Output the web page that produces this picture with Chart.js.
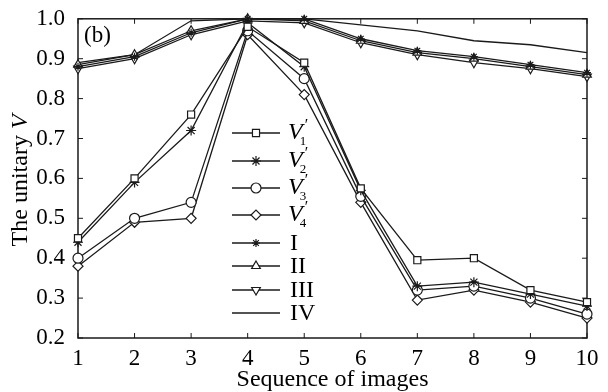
<!DOCTYPE html>
<html>
<head>
<meta charset="utf-8">
<script src="https://cdn.jsdelivr.net/npm/chart.js@4.4.1/dist/chart.umd.min.js"></script>
<style>
html, body { margin: 0; padding: 0; background: #fff; }
#caixa { width: 608px; height: 392px; }
</style>
</head>
<body>
<div id="caixa"><canvas id="graficoLinhas"></canvas></div>
<script>
const imagens = ['1', '2', '3', '4', '5', '6', '7', '8', '9', '10'];
const ticksY = [0.2, 0.3, 0.4, 0.5, 0.6, 0.7, 0.8, 0.9, 1.0];

const serieV1 = [0.45, 0.60, 0.76, 0.98, 0.89, 0.575, 0.395, 0.40, 0.32, 0.29];
const serieV2 = [0.44, 0.59, 0.72, 0.99, 0.88, 0.57, 0.33, 0.34, 0.31, 0.28];
const serieV3 = [0.40, 0.50, 0.54, 0.97, 0.85, 0.555, 0.32, 0.33, 0.30, 0.26];
const serieV4 = [0.38, 0.49, 0.50, 0.96, 0.81, 0.54, 0.295, 0.32, 0.29, 0.25];
const serieI = [0.88, 0.905, 0.965, 1.0, 1.0, 0.95, 0.92, 0.905, 0.885, 0.865];
const serieII = [0.885, 0.91, 0.97, 1.0, 0.995, 0.945, 0.915, 0.90, 0.88, 0.86];
const serieIII = [0.875, 0.90, 0.96, 0.995, 0.99, 0.94, 0.91, 0.89, 0.875, 0.855];
const serieIV = [0.89, 0.91, 0.995, 1.0, 1.0, 0.985, 0.97, 0.945, 0.935, 0.915];

const fonte = "'Liberation Serif', 'DejaVu Serif', serif";
const cor = '#1a1a1a';

function serie(label, data, estilo, raio, rotacao) {
    return {
        label: label,
        data: data,
        borderColor: cor,
        borderWidth: 1.3,
        pointStyle: estilo,
        pointRadius: raio,
        pointRotation: rotacao || 0,
        pointBorderColor: cor,
        pointBorderWidth: 1.2,
        pointBackgroundColor: '#fff',
        tension: 0,
        clip: false
    };
}

// moldura, ticks para dentro, legenda e titulos
const extras = {
    id: 'extras',
    beforeDatasetsDraw(chart) {
        const ctx = chart.ctx;
        const a = chart.chartArea;
        const sx = chart.scales.x, sy = chart.scales.y;
        ctx.save();
        ctx.strokeStyle = cor;
        ctx.lineWidth = 1.5;
        ctx.strokeRect(a.left, a.top, a.right - a.left, a.bottom - a.top);
        ctx.lineWidth = 1;
        ctx.beginPath();
        imagens.forEach((l, i) => {
            const px = sx.getPixelForValue(i);
            ctx.moveTo(px, a.bottom); ctx.lineTo(px, a.bottom - 5);
            ctx.moveTo(px, a.top); ctx.lineTo(px, a.top + 5);
        });
        ticksY.forEach(v => {
            const py = sy.getPixelForValue(v);
            ctx.moveTo(a.left, py); ctx.lineTo(a.left + 5, py);
            ctx.moveTo(a.right, py); ctx.lineTo(a.right - 5, py);
        });
        ctx.stroke();
        ctx.restore();
    },
    afterDraw(chart) {
        const ctx = chart.ctx;
        const a = chart.chartArea;
        ctx.save();
        ctx.fillStyle = '#000';
        ctx.textBaseline = 'middle';

        ctx.font = '23px ' + fonte;
        ctx.textAlign = 'left';
        ctx.fillText('(b)', a.left + 6, a.top + 17);

        // titulo eixo x
        ctx.textAlign = 'center';
        ctx.font = '24px ' + fonte;
        ctx.fillText('Sequence of images', (a.left + a.right) / 2, 380);

        // titulo eixo y
        ctx.translate(21, (a.top + a.bottom) / 2 + 2);
        ctx.rotate(-Math.PI / 2);
        const t1 = 'The unitary ';
        ctx.font = '24px ' + fonte;
        const w1 = ctx.measureText(t1).width;
        ctx.font = 'italic 24px ' + fonte;
        const w2 = ctx.measureText('V').width;
        ctx.textAlign = 'left';
        ctx.font = '24px ' + fonte;
        ctx.fillText(t1, -(w1 + w2) / 2, 0);
        ctx.font = 'italic 24px ' + fonte;
        ctx.fillText('V', -(w1 + w2) / 2 + w1, 0);
        ctx.restore();

        // legenda
        const linhas = [133, 161, 188, 215, 243, 266, 290, 313];
        ctx.save();
        chart.data.datasets.forEach((ds, i) => {
            const y = linhas[i];
            ctx.strokeStyle = cor;
            ctx.lineWidth = 1.3;
            ctx.beginPath();
            ctx.moveTo(232, y); ctx.lineTo(280, y);
            ctx.stroke();
            if (ds.pointRadius > 0) {
                ctx.fillStyle = '#fff';
                ctx.lineWidth = 1.2;
                Chart.helpers.drawPoint(ctx, {
                    pointStyle: ds.pointStyle,
                    radius: ds.pointRadius,
                    rotation: ds.pointRotation,
                    borderWidth: 1.2
                }, 256, y);
            }
            ctx.fillStyle = '#000';
            ctx.textBaseline = 'middle';
            ctx.textAlign = 'left';
            if (ds.label.startsWith('V')) {
                ctx.font = 'italic 24px ' + fonte;
                ctx.fillText('V', 288, y);
                const wv = ctx.measureText('V').width;
                ctx.font = '16px ' + fonte;
                ctx.fillText('\u2032', 288 + wv + 2, y - 7);
                ctx.font = '13px ' + fonte;
                ctx.fillText(ds.label.slice(2), 288 + wv - 3, y + 9);
            } else {
                ctx.font = '24px ' + fonte;
                ctx.fillText(ds.label, 290, y + 1);
            }
        });
        ctx.restore();
    }
};

const ctx = document.getElementById('graficoLinhas');
new Chart(ctx, {
    type: 'line',
    data: {
        labels: imagens,
        datasets: [
            serie('V\u20321', serieV1, 'rect', 5),
            serie('V\u20322', serieV2, 'star', 5),
            serie('V\u20323', serieV3, 'circle', 5),
            serie('V\u20324', serieV4, 'rectRot', 5),
            serie('I', serieI, 'star', 4),
            serie('II', serieII, 'triangle', 5),
            serie('III', serieIII, 'triangle', 5, 180),
            serie('IV', serieIV, 'circle', 0)
        ]
    },
    options: {
        responsive: true,
        maintainAspectRatio: false,
        animation: false,
        layout: { padding: { left: 0, top: 16, right: 21, bottom: 0 } },
        scales: {
            x: {
                offset: false,
                grid: { display: false },
                border: { display: false },
                ticks: {
                    color: '#000',
                    padding: -1,
                    maxRotation: 0,
                    font: { family: fonte, size: 23 }
                },
                afterFit: (scale) => { scale.height = 54; }
            },
            y: {
                min: 0.2,
                max: 1.0,
                grid: { display: false },
                border: { display: false },
                afterBuildTicks: (scale) => { scale.ticks = ticksY.map(v => ({ value: v })); },
                ticks: {
                    color: '#000',
                    padding: 5,
                    font: { family: fonte, size: 23 },
                    callback: (v) => v.toFixed(1)
                },
                afterFit: (scale) => { scale.width = 78; }
            }
        },
        plugins: {
            legend: { display: false },
            tooltip: { enabled: false }
        }
    },
    plugins: [extras]
});
</script>
</body>
</html>
